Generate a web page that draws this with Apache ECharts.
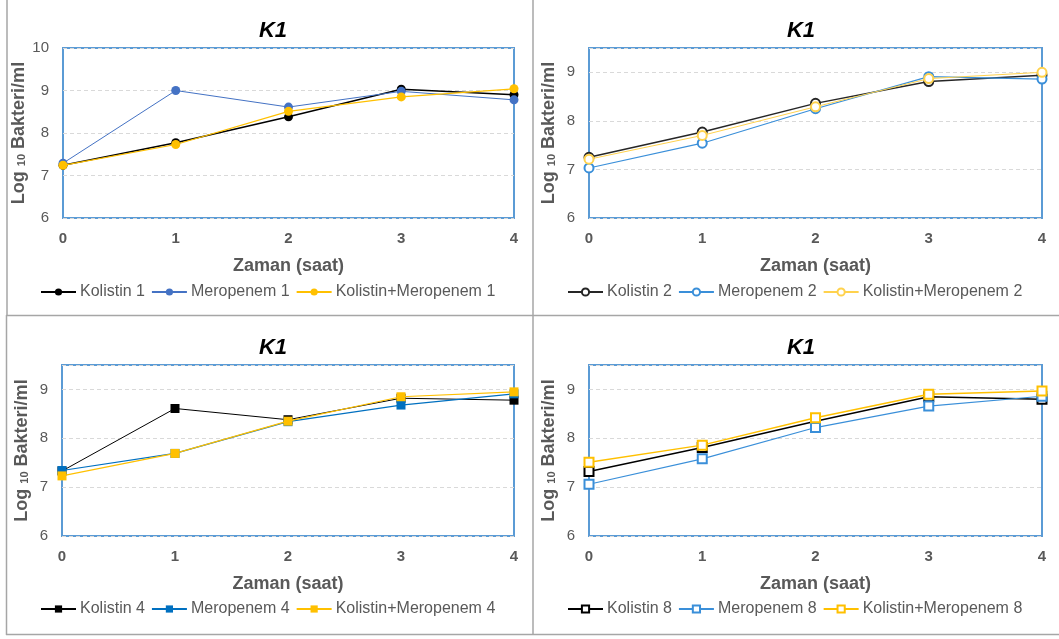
<!DOCTYPE html>
<html>
<head>
<meta charset="utf-8">
<script src="https://cdn.jsdelivr.net/npm/echarts@6/dist/echarts.min.js"></script>
<style>html,body{margin:0;padding:0;background:#fff}#c{width:1059px;height:639px}</style>
</head>
<body>
<div id="c"></div>
<script>
const hours = [0, 1, 2, 3, 4];
const yTicks1 = [6, 10];
const chartTitle = 'K1';
const xTitle = 'Zaman (saat)';

const kolistin1 = [7.24, 7.77, 8.38, 9.03, 8.90];
const meropenem1 = [7.29, 9.00, 8.61, 8.98, 8.78];
const kombine1 = [7.24, 7.73, 8.51, 8.85, 9.04];

const kolistin2 = [7.25, 7.77, 8.36, 8.81, 8.94];
const meropenem2 = [7.03, 7.54, 8.25, 8.91, 8.86];
const kombine2 = [7.21, 7.70, 8.29, 8.87, 9.00];

const kolistin4 = [7.33, 8.61, 8.38, 8.82, 8.78];
const meropenem4 = [7.34, 7.69, 8.34, 8.68, 8.91];
const kombine4 = [7.23, 7.69, 8.35, 8.85, 8.95];

const kolistin8 = [7.32, 7.81, 8.35, 8.85, 8.80];
const meropenem8 = [7.06, 7.58, 8.22, 8.66, 8.86];
const kombine8 = [7.51, 7.86, 8.42, 8.90, 8.97];

const FONT = '"Liberation Sans", Arial, sans-serif';
const GREY = '#595959';

const panels = [
  {dose: '1', sym: 'circle', empty: false, ymax: 10, data: [kolistin1, meropenem1, kombine1],
   colors: ['#000000', '#4472C4', '#FFC000'], widths: [1.5, 1, 1.2],
   grid: {left: 63, top: 48, width: 451, height: 170}, titleX: 268, titleY: 15, legendX: 40, legendY: 284},
  {dose: '2', sym: 'emptyCircle', empty: true, ymax: 9.5, data: [kolistin2, meropenem2, kombine2],
   colors: ['#262626', '#3A8FD9', '#FFD24D'], widths: [1.5, 1.2, 1],
   grid: {left: 589, top: 48, width: 453, height: 170}, titleX: 796, titleY: 15, legendX: 567, legendY: 284},
  {dose: '4', sym: 'rect', empty: false, ymax: 9.5, data: [kolistin4, meropenem4, kombine4],
   colors: ['#000000', '#0070C0', '#FFC000'], widths: [1, 1.2, 1.2],
   grid: {left: 62, top: 365, width: 452, height: 171}, titleX: 268, titleY: 332, legendX: 40, legendY: 601},
  {dose: '8', sym: 'emptyRect', empty: true, ymax: 9.5, data: [kolistin8, meropenem8, kombine8],
   colors: ['#000000', '#3A8FD9', '#FFC000'], widths: [1.5, 1.2, 1.5],
   grid: {left: 589, top: 365, width: 453, height: 171}, titleX: 796, titleY: 332, legendX: 567, legendY: 601}
];

const baseNames = ['Kolistin', 'Meropenem', 'Kolistin+Meropenem'];

const option = {
  backgroundColor: '#ffffff',
  animation: false,
  textStyle: {fontFamily: FONT},
  title: [], legend: [], grid: [], xAxis: [], yAxis: [], series: [],
  graphic: [
    {type: 'line', shape: {x1: 7, y1: 0, x2: 7, y2: 315}, style: {stroke: '#A6A6A6', lineWidth: 1.5}},
    {type: 'line', shape: {x1: 6.5, y1: 315, x2: 6.5, y2: 635}, style: {stroke: '#A6A6A6', lineWidth: 1.5}},
    {type: 'line', shape: {x1: 6, y1: 315.5, x2: 1059, y2: 315.5}, style: {stroke: '#A6A6A6', lineWidth: 1.5}},
    {type: 'line', shape: {x1: 533, y1: 0, x2: 533, y2: 635}, style: {stroke: '#A6A6A6', lineWidth: 1.5}},
    {type: 'line', shape: {x1: 6, y1: 634.5, x2: 1059, y2: 634.5}, style: {stroke: '#A6A6A6', lineWidth: 1.5}}
  ]
};

panels.forEach((p, i) => {
  option.title.push({
    text: chartTitle, left: p.titleX, top: p.titleY, textAlign: 'center',
    textStyle: {fontFamily: FONT, fontSize: 22, fontWeight: 'bold', fontStyle: 'italic', color: '#000'}
  });
  option.grid.push(Object.assign({show: true, borderColor: '#5B9BD5', borderWidth: 2, backgroundColor: 'transparent'}, p.grid));
  option.xAxis.push({
    type: 'value', gridIndex: i, min: hours[0], max: hours[hours.length - 1], interval: 1,
    name: xTitle, nameLocation: 'middle', nameGap: 39,
    nameTextStyle: {fontFamily: FONT, fontSize: 18, fontWeight: 'bold', color: GREY},
    axisLine: {show: false}, axisTick: {show: false}, splitLine: {show: false},
    axisLabel: {fontFamily: FONT, fontSize: 15, fontWeight: 'bold', color: GREY, margin: 13}
  });
  option.yAxis.push({
    type: 'value', gridIndex: i, min: yTicks1[0], max: p.ymax, interval: 1,
    name: '{a|Log }{b|10}{a| Bakteri/ml}', nameLocation: 'middle', nameGap: 31, nameRotate: 90,
    nameTextStyle: {
      rich: {
        a: {fontFamily: FONT, fontSize: 18, fontWeight: 'bold', color: GREY},
        b: {fontFamily: FONT, fontSize: 11, fontWeight: 'bold', color: GREY, padding: [6, 0, 0, 0]}
      }
    },
    axisLine: {show: false}, axisTick: {show: false},
    splitLine: {show: true, lineStyle: {color: '#D9D9D9', type: [4, 3], width: 1}},
    axisLabel: {fontFamily: FONT, fontSize: 15, color: GREY, margin: 14,
      formatter: v => (Math.abs(v - Math.round(v)) < 1e-9 ? String(v) : '')}
  });
  const names = baseNames.map(n => n + ' ' + p.dose);
  option.legend.push({
    left: p.legendX, top: p.legendY, padding: 0, itemGap: 6, itemWidth: 35, itemHeight: 9,
    data: names,
    textStyle: {fontFamily: FONT, fontSize: 16, color: GREY, padding: [0, 0, 0, -1]}
  });
  names.forEach((n, k) => {
    option.series.push({
      name: n, type: 'line', xAxisIndex: i, yAxisIndex: i,
      data: hours.map((h, j) => [h, p.data[k][j]]),
      symbol: p.sym, symbolSize: 9, showSymbol: true, clip: false,
      lineStyle: {color: p.colors[k], width: p.widths[k]},
      itemStyle: {color: p.colors[k], borderColor: p.colors[k], borderWidth: p.empty ? 1 : 0},
      z: 3 + k
    });
  });
});

const chart = echarts.init(document.getElementById('c'), null, {renderer: 'canvas'});
chart.setOption(option);
</script>
</body>
</html>
